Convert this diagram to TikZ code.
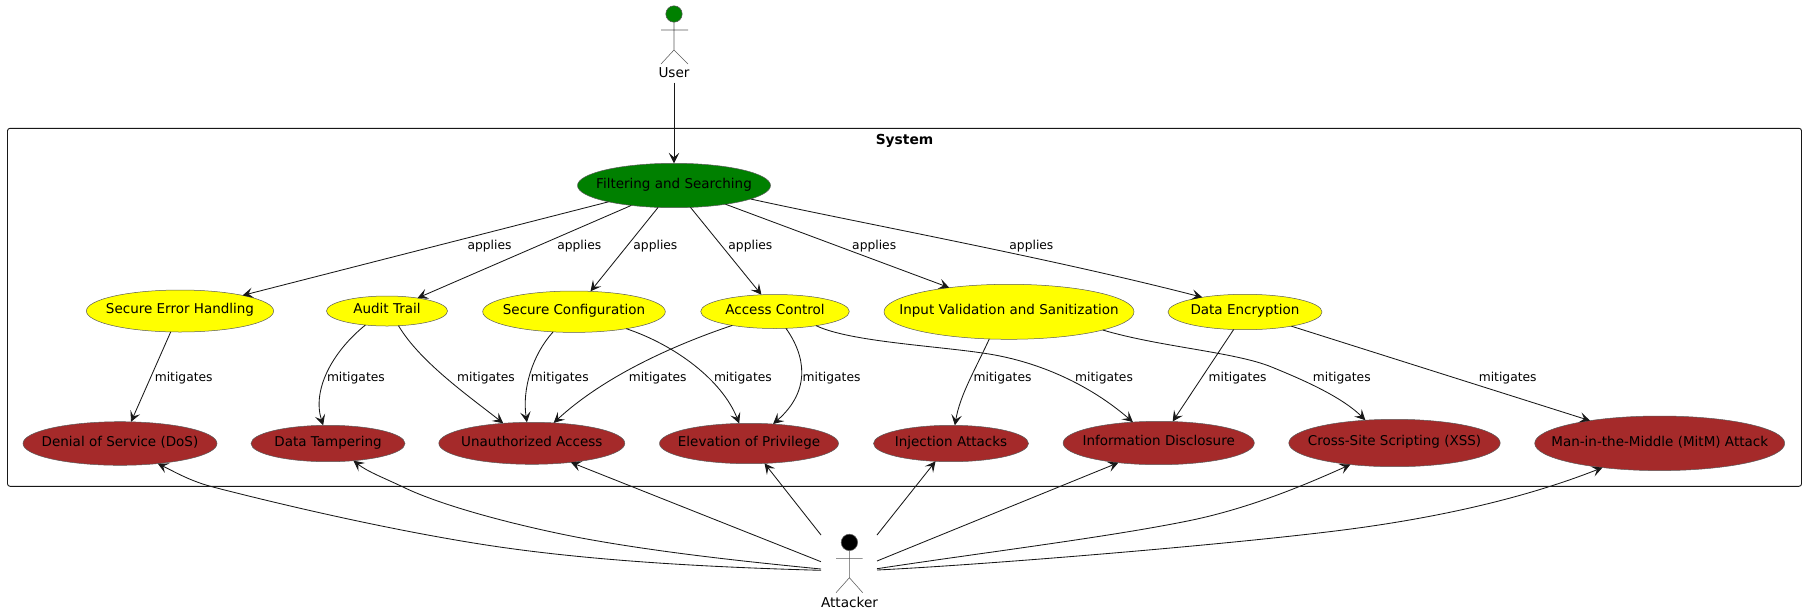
\documentclass[tikz,border=0pt]{standalone}
\usepackage{fontspec}
\setmainfont{DejaVu Sans}
\usetikzlibrary{shapes.geometric,arrows.meta}
\definecolor{ink}{HTML}{181818}
\definecolor{soft}{HTML}{5A5A5A}
\definecolor{ucgreen}{HTML}{008000}
\definecolor{ucyellow}{HTML}{FFFF00}
\definecolor{ucbrown}{HTML}{A52A2A}
\newcommand{\etxt}[1]{\makebox[0pt]{\raisebox{-2.7pt}[0pt][0pt]{#1}}}
\tikzset{
  x=1pt,y=-1pt,
  uc/.style={ellipse,draw=soft,line width=0.5pt,inner sep=0pt,outer sep=0pt,
    font=\fontsize{13.5}{16}\selectfont},
  conn/.style={draw=ink,line width=0.85pt,-{Stealth[length=10.5pt,width=10.5pt,inset=4.5pt]}},
  elabel/.style={inner sep=0pt,font=\fontsize{12.3}{15}\selectfont},
  actorlabel/.style={inner sep=0pt,font=\fontsize{13.6}{16}\selectfont},
  actorline/.style={draw=soft,line width=0.55pt},
  ghost/.style={inner sep=0pt,outer sep=0pt},
  sysbox/.style={draw=ink,line width=0.9pt,rounded corners=2.5pt},
}
\begin{document}
\begin{tikzpicture}
\useasboundingbox (0,0) rectangle (1806,614);
% system box
\draw[sysbox] (7.5,128.3) rectangle (1801.5,486.3);
\node[inner sep=0pt,font=\bfseries\fontsize{13.8}{16}\selectfont] (systitle) at (904.5,140.5) {System};
% actors
\draw[actorline,fill=ucgreen] (674,14) circle (8.2);
\draw[actorline] (674,22) -- (674,50) (661,30) -- (688,30) (661,64) -- (674,50) -- (688,64);
\node[actorlabel,minimum height=18.6pt] (user) at (674,73) {User};
\draw[actorline,fill=black] (849.4,542.4) circle (8.2);
\draw[actorline] (849.4,550.5) -- (849.4,577.7) (836,558.3) -- (862.7,558.3) (836,592.7) -- (849.4,577.7) -- (862.7,592.7);
\node[actorlabel] (attackerlabel) at (849.5,602) {Attacker};
\node[ghost,minimum width=56pt,minimum height=72pt] (attacker) at (849,570.5) {};
% use cases
\node[uc,fill=ucgreen,minimum width=193pt,minimum height=44.4pt] (fs) at (674,185.5) {\etxt{Filtering and Searching}};
\node[uc,fill=ucyellow,minimum width=187.2pt,minimum height=42pt] (seh) at (180,311) {\etxt{Secure Error Handling}};
\node[uc,fill=ucyellow,minimum width=121pt,minimum height=30pt] (audit) at (387,311) {\etxt{Audit Trail}};
\node[uc,fill=ucyellow,minimum width=182.6pt,minimum height=41.4pt] (conf) at (574,311.7) {\etxt{Secure Configuration}};
\node[uc,fill=ucyellow,minimum width=148.6pt,minimum height=34pt] (acc) at (775,311.5) {\etxt{Access Control}};
\node[uc,fill=ucyellow,minimum width=250pt,minimum height=55pt] (input) at (1009,311.8) {\etxt{Input Validation and Sanitization}};
\node[uc,fill=ucyellow,minimum width=154pt,minimum height=35.4pt] (enc) at (1245,312) {\etxt{Data Encryption}};
\node[uc,fill=ucbrown,minimum width=194pt,minimum height=43.6pt] (dos) at (120,443.5) {\etxt{Denial of Service (DoS)}};
\node[uc,fill=ucbrown,minimum width=154pt,minimum height=36.4pt] (tamp) at (328,443.5) {\etxt{Data Tampering}};
\node[uc,fill=ucbrown,minimum width=186pt,minimum height=42pt] (unauth) at (531.8,443.3) {\etxt{Unauthorized Access}};
\node[uc,fill=ucbrown,minimum width=179pt,minimum height=40.4pt] (elev) at (749,443.5) {\etxt{Elevation of Privilege}};
\node[uc,fill=ucbrown,minimum width=155pt,minimum height=36.4pt] (inj) at (951,443.5) {\etxt{Injection Attacks}};
\node[uc,fill=ucbrown,minimum width=191.2pt,minimum height=43.4pt] (info) at (1158.7,443) {\etxt{Information Disclosure}};
\node[uc,fill=ucbrown,minimum width=211.4pt,minimum height=47.4pt] (xss) at (1394.5,443) {\etxt{Cross-Site Scripting (XSS)}};
\node[uc,fill=ucbrown,minimum width=250pt,minimum height=54.6pt] (mitm) at (1659.7,443.3) {\etxt{Man-in-the-Middle (MitM) Attack}};
% connectors
\draw[conn] (user.south) -- (fs.north);
\draw[conn] (fs.194.8) -- (seh.14.3);
\draw[conn] (fs.205) -- (audit.23.1);
\draw[conn] (fs.234.2) -- (conf.51.8);
\draw[conn] (fs.-53.7) -- (acc.129.2);
\draw[conn] (fs.-20.9) -- (input.158.7);
\draw[conn] (fs.-10.7) .. controls (865,224) and (1050,258) .. (enc.161.8);
\draw[conn] (seh.246.4) -- (dos.63);
\draw[conn] (audit.213.7) .. controls (332,352) and (312,390) .. (tamp.105.4);
\draw[conn] (audit.-52.5) .. controls (420,362) and (470,397) .. (unauth.145.4);
\draw[conn] (conf.224.4) .. controls (532,355) and (522,390) .. (unauth.103);
\draw[conn] (conf.-18.9) .. controls (675,345) and (722,380) .. (elev.116.6);
\draw[conn] (acc.198) .. controls (665,348) and (600,380) .. (unauth.43.4);
\draw[conn] (acc.-57.4) .. controls (805,355) and (812,390) .. (elev.39.6);
\draw[conn] (acc.-19.1) .. controls (850,342) and (940,346) .. (989,354) .. controls (1040,362.3) and (1090,385) .. (info.141.6);
\draw[conn] (input.234.5) .. controls (975,370) and (960,395) .. (inj.78.6);
\draw[conn] (input.-11.3) .. controls (1160,347) and (1235,352) .. (1271.6,367) .. controls (1295,376.6) and (1340,395) .. (xss.142.4);
\draw[conn] (enc.237.8) -- (info.57);
\draw[conn] (enc.-17.7) -- (mitm.162.4);
\draw[conn] ([yshift=0.2pt]attacker.west) .. controls (700,567) and (580,560) .. (478,543.7) .. controls (380,528) and (275,503) .. (213,487) .. controls (190,481) and (175,472) .. (dos.-28);
\draw[conn] ([yshift=1.5pt]attacker.west) .. controls (760,563) and (660,553) .. (576,537) .. controls (510,524) and (440,505) .. (403,487) .. controls (385,478.3) and (368,472) .. (tamp.-34.5);
\draw[conn] ([yshift=8.8pt]attacker.west) -- (unauth.-26.4);
\draw[conn] ([yshift=35.5pt]attacker.west) -- (elev.-52);
\draw[conn] ([yshift=35.5pt]attacker.east) -- (inj.229.5);
\draw[conn] ([yshift=9.5pt]attacker.east) -- (info.206.7);
\draw[conn] ([yshift=1.8pt]attacker.east) .. controls (980,553) and (1110,537) .. (1191,520.3) .. controls (1250,508) and (1305,485) .. (xss.206.5);
\draw[conn] ([yshift=0.5pt]attacker.east) .. controls (980,565) and (1220,545.5) .. (1340.7,530.3) .. controls (1430,519) and (1520,500) .. (mitm.203.4);
% connector labels
\node[elabel] (a1) at (489.5,246) {applies};
\node[elabel] (a2) at (579.3,246) {applies};
\node[elabel] (a3) at (655.4,246) {applies};
\node[elabel] (a4) at (750.4,246) {applies};
\node[elabel] (a5) at (874.2,246) {applies};
\node[elabel] (a6) at (1031.4,246) {applies};
\node[elabel] (m1) at (183.7,377.7) {mitigates};
\node[elabel] (m2) at (355.9,377.7) {mitigates};
\node[elabel] (m3) at (486,377.7) {mitigates};
\node[elabel] (m4) at (559.8,377.7) {mitigates};
\node[elabel] (m5) at (657.7,377.7) {mitigates};
\node[elabel] (m6) at (742.9,377.7) {mitigates};
\node[elabel] (m7) at (831.6,377.7) {mitigates};
\node[elabel] (m8) at (1002.6,377.7) {mitigates};
\node[elabel] (m9) at (1104,377.7) {mitigates};
\node[elabel] (m10) at (1237.6,377.7) {mitigates};
\node[elabel] (m11) at (1341.8,377.7) {mitigates};
\node[elabel] (m12) at (1507.7,377.7) {mitigates};
\end{tikzpicture}
\end{document}
